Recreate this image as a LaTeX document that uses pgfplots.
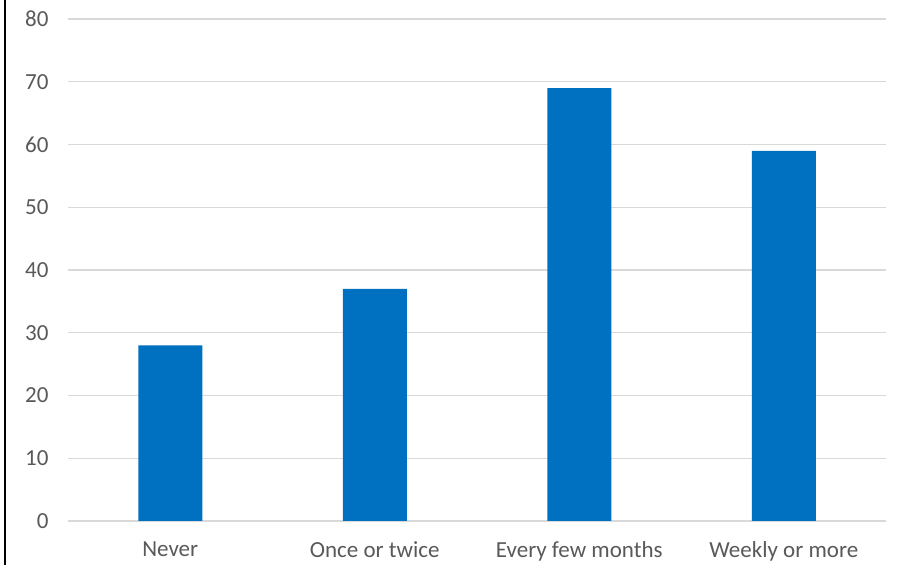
\documentclass[border=0pt]{standalone}
\usepackage{pgfplots}
\pgfplotsset{compat=1.18}
\usepackage{fontspec}
\setmainfont{Carlito}
\definecolor{barblue}{HTML}{0070C0}
\definecolor{gridgray}{HTML}{D9D9D9}
\definecolor{textgray}{HTML}{595959}
\begin{document}
\begin{tikzpicture}[x=1pt,y=1pt]
\begin{axis}[
  at={(68pt,44pt)}, anchor=south west,
  scale only axis, width=818pt, height=502pt,
  ymin=0, ymax=80, ytick={0,10,...,80},
  xmin=-0.5, xmax=3.5, xtick=data,
  xticklabels={Never,Once or twice,Every few months,Weekly or more},
  axis line style={draw=none},
  major tick length=0pt,
  ymajorgrids, grid style={gridgray, line width=1.3pt},
  tick label style={font=\fontsize{23}{28}\selectfont, text=textgray},
  /pgf/number format/assume math mode=true,
  yticklabel style={xshift=-16pt},
  xticklabel style={yshift=-17pt},
  ybar, bar width=64pt,
  clip=false,
]
\addplot[fill=barblue, draw=none] coordinates {(0,28) (1,37) (2,69) (3,59)};
\end{axis}
\draw[black, line width=2pt] (4.5pt,0) -- (4.5pt,565pt);
\pgfresetboundingbox
\path (0,0) rectangle (900pt,565pt);
\end{tikzpicture}
\end{document}
